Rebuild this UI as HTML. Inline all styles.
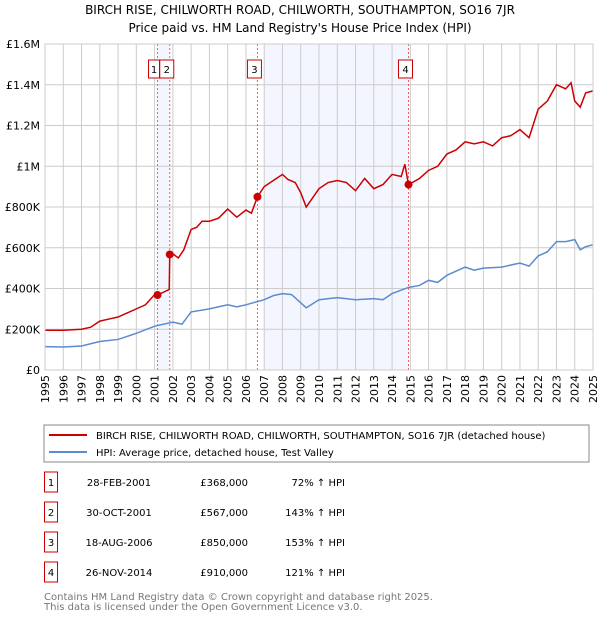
<!DOCTYPE html>
<html><head><meta charset="utf-8"><style>
body{margin:0;background:#fff;font-family:"DejaVu Sans","Liberation Sans",sans-serif;}
svg text{font-family:"DejaVu Sans","Liberation Sans",sans-serif;}
</style></head><body>
<svg id="c" width="600" height="620" xmlns="http://www.w3.org/2000/svg">
<text x="300" y="14" text-anchor="middle" font-size="12">BIRCH RISE, CHILWORTH ROAD, CHILWORTH, SOUTHAMPTON, SO16 7JR</text>
<text x="300" y="32" text-anchor="middle" font-size="12">Price paid vs. HM Land Registry's House Price Index (HPI)</text>
<g id="plot"></g>
<rect x="44" y="425" width="545" height="37" fill="none" stroke="#888"/>
<line x1="49" y1="435" x2="87" y2="435" stroke="#cc0000" stroke-width="2"/>
<text x="96" y="439" font-size="10">BIRCH RISE, CHILWORTH ROAD, CHILWORTH, SOUTHAMPTON, SO16 7JR (detached house)</text>
<line x1="49" y1="452" x2="87" y2="452" stroke="#5b8bd0" stroke-width="2"/>
<text x="96" y="456" font-size="10">HPI: Average price, detached house, Test Valley</text>
<g id="tbl" font-size="10"></g>
<text x="44" y="600" font-size="10" fill="#777">Contains HM Land Registry data © Crown copyright and database right 2025.</text>
<text x="44" y="610" font-size="10" fill="#777">This data is licensed under the Open Government Licence v3.0.</text>
</svg>
<script>
const hpiYears=[1995,1996,1997,1998,1999,2000,2001,2002,2002.5,2003,2004,2005,2005.5,2006,2007,2007.5,2008,2008.5,2009,2009.3,2010,2011,2012,2013,2013.5,2014,2014.9,2015.5,2016,2016.5,2017,2018,2018.5,2019,2020,2021,2021.5,2022,2022.5,2023,2023.5,2024,2024.3,2024.6,2025];
const hpiValues=[115,113,118,140,150,180,215,235,225,285,300,320,310,320,345,365,375,370,330,305,345,355,345,350,345,375,405,415,440,430,465,505,490,500,505,525,510,560,580,630,630,640,590,605,615];
const priceYears=[1995,1996,1997,1997.5,1998,1998.5,1999,2000,2000.5,2001,2001.16,2001.8,2001.83,2002,2002.3,2002.6,2003,2003.3,2003.6,2004,2004.5,2005,2005.5,2006,2006.3,2006.63,2007,2007.5,2008,2008.3,2008.7,2009,2009.3,2010,2010.5,2011,2011.5,2012,2012.5,2013,2013.5,2014,2014.5,2014.7,2014.9,2015.5,2016,2016.5,2017,2017.5,2018,2018.5,2019,2019.5,2020,2020.5,2021,2021.5,2022,2022.5,2023,2023.5,2023.8,2024,2024.3,2024.6,2025];
const priceValues=[195,195,200,210,240,250,260,300,320,370,368,395,567,570,550,590,690,700,730,730,745,790,750,785,770,850,900,930,960,935,920,870,800,890,920,930,920,880,940,890,910,960,950,1010,910,940,980,1000,1060,1080,1120,1110,1120,1100,1140,1150,1180,1140,1280,1320,1400,1380,1410,1320,1290,1360,1370];
const saleLabels=["1","2","3","4"];
const saleYears=[2001.16,2001.83,2006.63,2014.9];
const saleValues=[368,567,850,910];
const saleDates=["28-FEB-2001","30-OCT-2001","18-AUG-2006","26-NOV-2014"];
const salePrices=["£368,000","£567,000","£850,000","£910,000"];
const saleHpi=["72% ↑ HPI","143% ↑ HPI","153% ↑ HPI","121% ↑ HPI"];
const yTicks=[0,200,400,600,800,1000,1200,1400,1600];
const yTickLabels=["£0","£200K","£400K","£600K","£800K","£1M","£1.2M","£1.4M","£1.6M"];
const xTicks=[1995,1996,1997,1998,1999,2000,2001,2002,2003,2004,2005,2006,2007,2008,2009,2010,2011,2012,2013,2014,2015,2016,2017,2018,2019,2020,2021,2022,2023,2024,2025];

const NS="http://www.w3.org/2000/svg";
const X0=45,X1=593,Y0=370,Y1=44;
const xs=y=>X0+(y-1995)/30*(X1-X0);
const ys=v=>Y0-v/1600*(Y0-Y1);
const g=document.getElementById('plot');
function mk(t,a,p){const e=document.createElementNS(NS,t);for(const k in a)e.setAttribute(k,a[k]);(p||g).appendChild(e);return e;}

let e=mk('rect',{x:X0,y:Y1,width:X1-X0,height:Y0-Y1,fill:'#fff'});


e=mk('rect',{x:xs(saleYears[0]),y:Y1,width:xs(saleYears[1])-xs(saleYears[0]),height:Y0-Y1,fill:'#f3f6fe'});


e=mk('rect',{x:xs(2007),y:Y1,width:xs(saleYears[3])-xs(2007),height:Y0-Y1,fill:'#f3f6fe'});



yTicks.forEach((v,i)=>{
  let l=mk('line',{x1:X0,x2:X1,y1:ys(v),y2:ys(v),stroke:'#ccc'});
  
  
  let t=mk('text',{x:40,y:ys(v)+4,'text-anchor':'end','font-size':11});
  t.textContent=yTickLabels[i];
  
  
});
xTicks.forEach(y=>{
  let l=mk('line',{x1:xs(y),x2:xs(y),y1:Y1,y2:Y0,stroke:'#ccc'});
  
  
  let t=mk('text',{x:0,y:0,'font-size':11,'text-anchor':'end',transform:`translate(${xs(y)+4},${Y0+5}) rotate(-90)`});
  t.textContent=y;
  
  
});
saleYears.forEach((y,i)=>{
  let l=mk('line',{x1:xs(y),x2:xs(y),y1:Y1,y2:Y0,stroke:'#f06060','stroke-dasharray':'2,2'});
  
  
  let bx=xs(y)-(i==0?9:10);
  let bw=i==0?11:14;
  let r=mk('rect',{x:bx,y:60,width:bw,height:18,fill:'#fff',stroke:'#cc0000'});
  
  
  let t=mk('text',{x:bx+bw/2,y:73,'text-anchor':'middle','font-size':10});
  t.textContent=saleLabels[i];
  
  
});
let hp=mk('polyline',{points:hpiYears.map((y,i)=>xs(y)+','+ys(hpiValues[i])).join(' '),fill:'none',stroke:'#5b8bd0','stroke-width':1.5});


let pp=mk('polyline',{points:priceYears.map((y,i)=>xs(y)+','+ys(priceValues[i])).join(' '),fill:'none',stroke:'#cc0000','stroke-width':1.5});


saleYears.forEach((y,i)=>{
  let c=mk('circle',{cx:xs(y),cy:ys(saleValues[i]),r:4,fill:'#cc0000'});
  
  
});
let ax=mk('rect',{x:X0,y:Y1,width:X1-X0,height:Y0-Y1,fill:'none',stroke:'#ccc'});



const tb=document.getElementById('tbl');
const rowY=[482,512,542,572];
saleLabels.forEach((s,i)=>{
  const y=rowY[i];
  let r=mk('rect',{x:44.5,y:y-10,width:13,height:20,fill:'#fff',stroke:'#cc0000'},tb);
  
  
  const cells=[[51,'middle',s],[149,'end',saleDates[i]],[248,'end',salePrices[i]],[345,'end',saleHpi[i]]];
  cells.forEach(([x,a,txt],j)=>{
    let t=mk('text',{x:x,y:y+4,'text-anchor':a},tb);
    if(j==1)t.setAttribute('x',x-30),t.setAttribute('text-anchor','middle');
    t.textContent=txt;
    
    
  });
});
</script>
</body></html>
